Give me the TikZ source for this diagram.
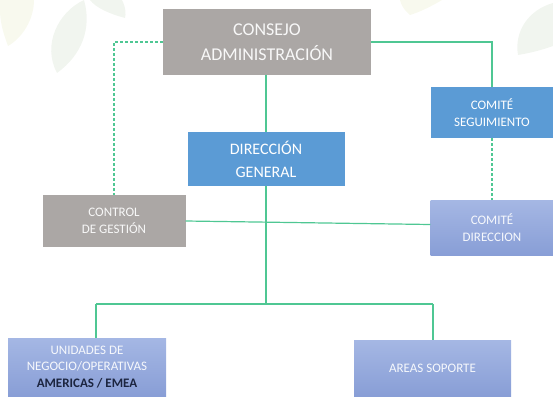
\documentclass[tikz,border=0pt]{standalone}
\usepackage{fontspec}
\setmainfont{Carlito}
\definecolor{boxgray}{HTML}{ABA7A5}
\definecolor{boxblue}{HTML}{5B9BD5}
\definecolor{lavtop}{HTML}{A5B7E4}
\definecolor{lavbot}{HTML}{889ED6}
\definecolor{mint}{HTML}{4FC793}
\definecolor{navy}{HTML}{1C2540}
\definecolor{leafg}{HTML}{F1F5EF}
\definecolor{leafy}{HTML}{F8F9EE}
\begin{document}
\begin{tikzpicture}[x=1pt,y=-1pt,
  box/.style={inner sep=0pt, align=center, text=white},
  gbox/.style={box, fill=boxgray, text=white!92!boxgray},
  bbox/.style={box, fill=boxblue},
  lbox/.style={box, top color=lavtop, bottom color=lavbot, text=white!90!lavtop},
  big/.style={font=\fontsize{18}{25}\selectfont},
  mid/.style={font=\fontsize{16}{23}\selectfont},
  small/.style={font=\fontsize{13}{16.5}\selectfont},
  link/.style={draw=mint, line width=1.2pt},
  dlink/.style={link, dash pattern=on 3pt off 2pt}]
\useasboundingbox (0,0) rectangle (553,396);
% background leaves
\fill[leafy] (0,0) -- (34,0) .. controls (34,20) and (22,38) .. (8,46) .. controls (2,30) and (0,20) .. (0,10) -- cycle;
\fill[leafg] (57,73) .. controls (42,45) and (58,12) .. (84,0) .. controls (92,28) and (82,55) .. (57,73) -- cycle;
\fill[leafg] (90,0) -- (122,0) .. controls (126,8) and (126,14) .. (125,18) .. controls (110,14) and (96,8) .. (90,0) -- cycle;
\fill[leafy] (400,0) -- (442,0) .. controls (432,6) and (420,12) .. (410,15) .. controls (404,10) and (401,5) .. (400,0) -- cycle;
\fill[leafg] (518,55) .. controls (514,32) and (528,10) .. (553,3) -- (553,46) .. controls (542,50) and (530,53) .. (518,55) -- cycle;
% boxes
\node[gbox, big, minimum width=208pt, minimum height=65pt] (ca) at (267,42) {CONSEJO\\ADMINISTRACIÓN};
\node[bbox, mid, minimum width=157pt, minimum height=54pt] (dg) at (266,159) {DIRECCIÓN\\GENERAL};
\node[bbox, small, minimum width=123pt, minimum height=51pt] (cs) at (492,112.5) {COMITÉ\\SEGUIMIENTO};
\node[gbox, small, minimum width=143pt, minimum height=52pt] (cg) at (114,221) {CONTROL\\DE GESTIÓN};
\node[lbox, small, minimum width=123pt, minimum height=55pt] (cd) at (492,227.5) {COMITÉ\\DIRECCION};
\node[lbox, small, minimum width=158pt, minimum height=58pt] (un) at (87,367) {UNIDADES DE\\NEGOCIO/OPERATIVAS\\\textcolor{navy}{\textbf{AMERICAS / EMEA}}};
\node[lbox, small, minimum width=157pt, minimum height=56pt] (ar) at (432.5,368) {AREAS SOPORTE};
% connectors
\coordinate (j) at (266,304);
\coordinate (hl) at (96,304);
\coordinate (hr) at (433,304);
\draw[dlink] (ca.west) -| (cg.north);
\draw[link] (ca.east) -| (cs.north);
\draw[dlink] (cs.south) -- (cd.north);
\draw[link] (dg.north |- ca.south) -- (dg.north);
\draw[link] (dg.south) -- (j);
\draw[link] (cg.east) -- ([yshift=3pt]cd.west);
\draw[link] (hl) -- (hr);
\draw[link] (hl) -- (hl |- un.north);
\draw[link] (hr) -- (hr |- ar.north);
\end{tikzpicture}
\end{document}
